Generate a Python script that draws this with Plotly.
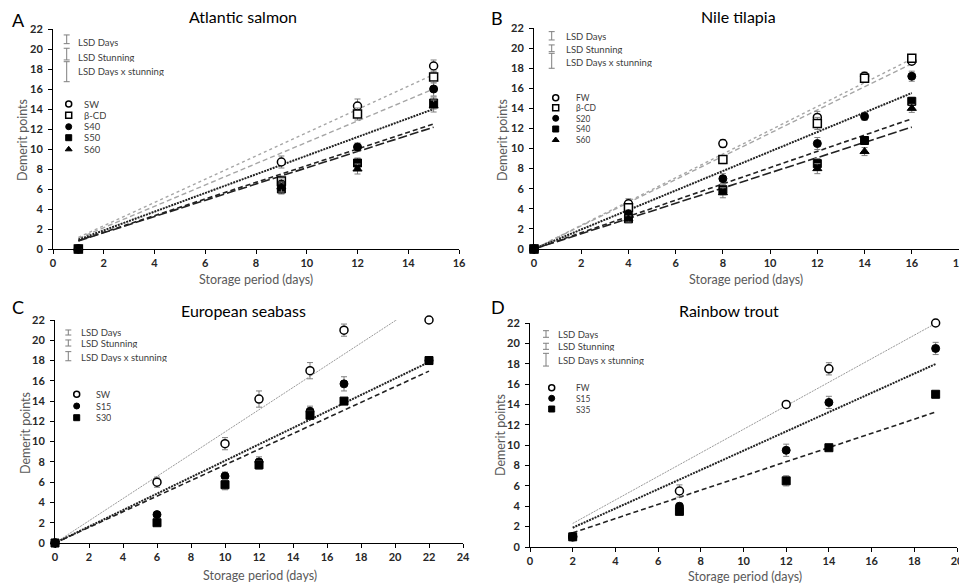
import numpy as np
import plotly.graph_objects as go

# ---------------- data ----------------
# A: Atlantic salmon
salmon_days = [1, 9, 12, 15]
salmon_SW = [0, 8.7, 14.3, 18.3]
salmon_BCD = [0, 6.8, 13.5, 17.2]
salmon_S40 = [0, 6.5, 10.2, 16.0]
salmon_S50 = [0, 6.0, 8.6, 14.6]
salmon_S60 = [0, 6.2, 8.0, 14.3]
salmon_err_SW = [0, 0.6, 0.7, 0.6]
salmon_err_BCD = [0, 0.5, 0.6, 0.6]
salmon_err_S40 = [0, 0.5, 0.4, 0.7]
salmon_err_S50 = [0, 0.5, 0.5, 0.6]
salmon_err_S60 = [0, 0.5, 0.5, 0.6]
salmon_lsd = [0.87, 1.17, 2.0]

# B: Nile tilapia
tilapia_days = [0, 4, 8, 12, 14, 16]
tilapia_FW = [0, 4.5, 10.5, 13.1, 17.2, 18.7]
tilapia_BCD = [0, 4.1, 8.9, 12.5, 17.0, 19.0]
tilapia_S20 = [0, 3.5, 7.0, 10.5, 13.2, 17.2]
tilapia_S40 = [0, 3.0, 5.9, 8.5, 10.8, 14.7]
tilapia_S60 = [0, 3.0, 5.6, 8.0, 9.7, 14.0]
tilapia_err_FW = [0, 0.5, 0.4, 0.6, 0.4, 0.3]
tilapia_err_BCD = [0, 0.4, 0.4, 0.6, 0.4, 0.3]
tilapia_err_S20 = [0, 0.4, 0.5, 0.6, 0.4, 0.5]
tilapia_err_S40 = [0, 0.3, 0.5, 0.5, 0.4, 0.4]
tilapia_err_S60 = [0, 0.3, 0.5, 0.5, 0.4, 0.4]
tilapia_lsd = [0.83, 0.67, 1.49]

# C: European seabass
seabass_days = [0, 6, 10, 12, 15, 17, 22]
seabass_SW = [0, 6.0, 9.8, 14.2, 17.0, 21.0, 22.0]
seabass_S15 = [0, 2.8, 6.6, 8.0, 13.0, 15.7, 18.0]
seabass_S30 = [0, 2.0, 5.75, 7.7, 12.6, 14.0, 18.0]
seabass_err_SW = [0, 0.5, 0.6, 0.8, 0.8, 0.6, 0]
seabass_err_S15 = [0, 0, 0.4, 0.5, 0.5, 0.7, 0.3]
seabass_err_S30 = [0, 0, 0.5, 0.4, 0.4, 0.3, 0.3]
seabass_lsd = [0.5, 0.6, 0.9]

# D: Rainbow trout
trout_days = [2, 7, 12, 14, 19]
trout_FW = [1.0, 5.5, 14.0, 17.5, 22.0]
trout_S15 = [1.0, 4.0, 9.5, 14.2, 19.5]
trout_S35 = [1.0, 3.5, 6.5, 9.75, 15.0]
trout_err_FW = [0, 0.6, 0, 0.6, 0]
trout_err_S15 = [0, 0.3, 0.6, 0.6, 0.6]
trout_err_S35 = [0, 0.3, 0.5, 0, 0]
trout_lsd = [0.65, 0.6, 1.25]

lsd_labels = ["LSD Days", "LSD Stunning", "LSD Days x stunning"]

# ---------------- styling ----------------
W, H = 959, 584
FONT = "Lato"
LIGHT = "#a6a6a6"
TXT = "#404040"

OPEN = dict(color="white", line=dict(color="black", width=1.5))
FILL = dict(color="black", line=dict(color="black", width=1))

style = {
    "gray_dot": dict(color=LIGHT, width=1.4, dash="dot"),
    "gray_dash": dict(color=LIGHT, width=1.4, dash="5px,3px"),
    "gray_fine": dict(color="#9a9a9a", width=1.0, dash="2px,1px"),
    "black_dot": dict(color="#222222", width=2.0, dash="2px,1px"),
    "black_dash": dict(color="#222222", width=1.6, dash="5px,3px"),
    "black_long": dict(color="#222222", width=1.6, dash="9px,3px"),
}

panels = [
    dict(letter="A", title="Atlantic salmon", box=(53, 459, 29, 249), xr=16,
         days=salmon_days, lsd=salmon_lsd, key_font=9.5,
         series=[("SW", salmon_SW, salmon_err_SW, "circle", OPEN, "gray_dot"),
                 ("β-CD", salmon_BCD, salmon_err_BCD, "square", OPEN, "gray_dash"),
                 ("S40", salmon_S40, salmon_err_S40, "circle", FILL, "black_dot"),
                 ("S50", salmon_S50, salmon_err_S50, "square", FILL, "black_dash"),
                 ("S60", salmon_S60, salmon_err_S60, "triangle-up", FILL, "black_long")],
         lsd_px=(66.7, [39.3, 54.1, 71.7]), lsd_text=(77, [41.7, 56.7, 71]),
         leg_px=(68.7, [104, 115.2, 126.7, 137.7, 149.3]), leg_text=83,
         letter_px=(18, 20), title_px=(243, 17), xt_px=(256, 280), yt_px=(23, 140)),
    dict(letter="B", title="Nile tilapia", box=(534, 959, 28, 249), xr=18,
         days=tilapia_days, lsd=tilapia_lsd, key_font=8.5,
         series=[("FW", tilapia_FW, tilapia_err_FW, "circle", OPEN, "gray_dot"),
                 ("β-CD", tilapia_BCD, tilapia_err_BCD, "square", OPEN, "gray_dash"),
                 ("S20", tilapia_S20, tilapia_err_S20, "circle", FILL, "black_dot"),
                 ("S40", tilapia_S40, tilapia_err_S40, "square", FILL, "black_dash"),
                 ("S60", tilapia_S60, tilapia_err_S60, "triangle-up", FILL, "black_long")],
         lsd_px=(551.7, [35.8, 48.3, 60.8]), lsd_text=(565, [36, 48.7, 62]),
         leg_px=(555.7, [97.7, 107.7, 118.3, 129, 140]), leg_text=575,
         letter_px=(497, 18), title_px=(738, 16), xt_px=(746, 280), yt_px=(503, 140)),
    dict(letter="C", title="European seabass", box=(55, 463, 320, 543), xr=24,
         days=seabass_days, lsd=seabass_lsd, key_font=9,
         series=[("SW", seabass_SW, seabass_err_SW, "circle", OPEN, "gray_fine"),
                 ("S15", seabass_S15, seabass_err_S15, "circle", FILL, "black_dot"),
                 ("S30", seabass_S30, seabass_err_S30, "square", FILL, "black_dash")],
         lsd_px=(68.3, [332.5, 343, 356.2]), lsd_text=(80, [332.3, 343.3, 356.7]),
         leg_px=(76.7, [394.3, 406, 417.7]), leg_text=95,
         letter_px=(18, 307), title_px=(243, 310), xt_px=(260, 575), yt_px=(25, 433)),
    dict(letter="D", title="Rainbow trout", box=(530, 957, 323, 547), xr=20,
         days=trout_days, lsd=trout_lsd, key_font=8.5,
         series=[("FW", trout_FW, trout_err_FW, "circle", OPEN, "gray_fine"),
                 ("S15", trout_S15, trout_err_S15, "circle", FILL, "black_dot"),
                 ("S35", trout_S35, trout_err_S35, "square", FILL, "black_dash")],
         lsd_px=(546, [334, 346.3, 359.7]), lsd_text=(557.3, [334.3, 346, 360]),
         leg_px=(551.7, [387.7, 398.3, 409]), leg_text=575,
         letter_px=(498, 307), title_px=(729, 310), xt_px=(745, 576), yt_px=(500, 435)),
]

fig = go.Figure()
annotations = []

for i, p in enumerate(panels):
    n = "" if i == 0 else str(i + 1)
    xa, ya = "x" + n, "y" + n
    left, right, top, bottom = p["box"]

    def to_x(px, p=p):
        l, r, _, _ = p["box"]
        return (px - l) / (r - l) * p["xr"]

    def to_y(py, p=p):
        _, _, t, b = p["box"]
        return (b - py) / (b - t) * 22

    fig.layout["xaxis" + n] = dict(
        domain=[left / W, right / W], range=[0, p["xr"]], dtick=2, anchor=ya,
        automargin=False, ticklabeloverflow="allow",
        showline=True, linecolor="black", linewidth=1, ticks="outside", ticklen=4,
        tickcolor="black", showgrid=False, zeroline=False,
        tickfont=dict(family=FONT, size=11, color="#262626", weight="bold"))
    fig.layout["yaxis" + n] = dict(
        domain=[1 - bottom / H, 1 - top / H], range=[0, 22], dtick=2, anchor=xa,
        automargin=False, ticklabeloverflow="allow",
        showline=True, linecolor="black", linewidth=1, ticks="outside", ticklen=4,
        tickcolor="black", showgrid=False, zeroline=False, ticklabelstandoff=3,
        tickfont=dict(family=FONT, size=11, color="#262626", weight="bold"))

    days = np.array(p["days"], dtype=float)
    # linear trendlines through the origin, drawn over the sampled days
    for name, vals, err, sym, mk, ls in p["series"]:
        v = np.array(vals, dtype=float)
        slope = (days * v).sum() / (days * days).sum()
        xs = np.array([days.min(), days.max()])
        fig.add_trace(go.Scatter(x=xs, y=slope * xs, mode="lines", line=style[ls],
                                 xaxis=xa, yaxis=ya, showlegend=False, hoverinfo="skip"))
    for name, vals, err, sym, mk, ls in p["series"]:
        fig.add_trace(go.Scatter(
            x=p["days"], y=vals, mode="markers", name=name, xaxis=xa, yaxis=ya,
            marker=dict(symbol=sym, size=8, **mk), showlegend=False, cliponaxis=False,
            error_y=dict(type="data", array=err, visible=True, color="#7f7f7f",
                         thickness=1, width=3)))

    # LSD bars
    lx, lys = p["lsd_px"]
    fig.add_trace(go.Scatter(
        x=[to_x(lx)] * 3, y=[to_y(yy) for yy in lys], mode="markers",
        marker=dict(size=1, color="rgba(0,0,0,0)"), xaxis=xa, yaxis=ya,
        showlegend=False, hoverinfo="skip", cliponaxis=False,
        error_y=dict(type="data", array=[v / 2 for v in p["lsd"]], visible=True,
                     color="#7f7f7f", thickness=1, width=3)))
    tx, tys = p["lsd_text"]
    for lab, ty in zip(lsd_labels, tys):
        annotations.append(dict(text=lab, x=tx / W, y=1 - ty / H, xref="paper", yref="paper",
                                xanchor="left", yanchor="middle", showarrow=False,
                                height=10, borderpad=0,
                                font=dict(family=FONT, size=9.5, color=TXT)))

    # series key
    kx, kys = p["leg_px"]
    for (name, vals, err, sym, mk, ls), ky in zip(p["series"], kys):
        fig.add_trace(go.Scatter(
            x=[to_x(kx)], y=[to_y(ky)], mode="markers", xaxis=xa, yaxis=ya,
            marker=dict(symbol=sym, size=6, **mk), showlegend=False,
            cliponaxis=False, hoverinfo="skip"))
        annotations.append(dict(text=name, x=p["leg_text"] / W, y=1 - ky / H,
                                xref="paper", yref="paper", xanchor="left", yanchor="middle",
                                showarrow=False, height=9, borderpad=0,
                                font=dict(family=FONT, size=p["key_font"], color=TXT)))

    lpx, lpy = p["letter_px"]
    annotations.append(dict(text=p["letter"], x=lpx / W, y=1 - lpy / H, xref="paper",
                            yref="paper", xanchor="center", yanchor="middle", showarrow=False,
                            font=dict(family=FONT, size=18, color="black")))
    tpx, tpy = p["title_px"]
    annotations.append(dict(text=p["title"], x=tpx / W, y=1 - tpy / H, xref="paper",
                            yref="paper", xanchor="center", yanchor="middle", showarrow=False,
                            font=dict(family=FONT, size=16, color="black")))
    xpx, xpy = p["xt_px"]
    annotations.append(dict(text="Storage period (days)", x=xpx / W, y=1 - xpy / H,
                            xref="paper", yref="paper", xanchor="center", yanchor="middle",
                            showarrow=False, font=dict(family=FONT, size=12.5, color="#595959")))
    ypx, ypy = p["yt_px"]
    annotations.append(dict(text="Demerit points", x=ypx / W, y=1 - ypy / H, textangle=-90,
                            xref="paper", yref="paper", xanchor="center", yanchor="middle",
                            showarrow=False, font=dict(family=FONT, size=12.5, color="#595959")))

fig.update_layout(
    width=W, height=H, margin=dict(l=0, r=0, t=0, b=0),
    paper_bgcolor="white", plot_bgcolor="white",
    annotations=annotations, showlegend=False,
    font=dict(family=FONT),
)

fig.write_html("out.html")
